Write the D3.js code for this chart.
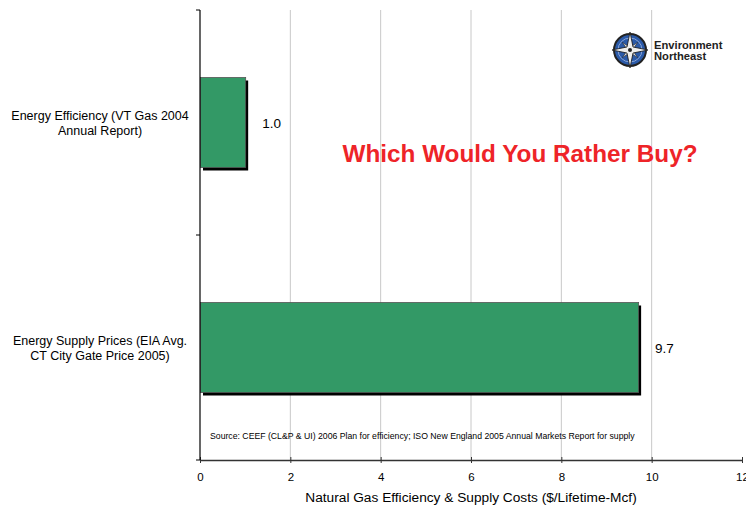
<!doctype html>
<html>
<head>
<meta charset="UTF-8">
<script src="https://d3js.org/d3.v7.min.js"></script>
<style>
  body { margin: 0; background: #fff; }
  svg text { font-family: "Liberation Sans", Arial, sans-serif; }
</style>
</head>
<body>
<svg id="chart"></svg>
<script>
// chart data
const categories = [
  ["Energy Efficiency (VT Gas 2004", "Annual Report)"],
  ["Energy Supply Prices (EIA Avg.", "CT City Gate Price 2005)"]
];
const values = [1.0, 9.7];
const valueLabels = ["1.0", "9.7"];
const xTicks = [0, 2, 4, 6, 8, 10, 12];
const xTitle = "Natural Gas Efficiency & Supply Costs ($/Lifetime-Mcf)";
const headline = "Which Would You Rather Buy?";
const sourceNote = "Source: CEEF (CL&P & UI) 2006 Plan for efficiency; ISO New England 2005 Annual Markets Report for supply";

(function(){
  const W = 746, H = 506;
  const margin = {top: 10, right: 4, bottom: 46, left: 200};
  const width = W - margin.left - margin.right,
        height = H - margin.top - margin.bottom;

  const svg = d3.select("#chart").attr("width", W).attr("height", H);
  const chart = svg.append("g")
      .attr("transform", "translate(" + margin.left + "," + margin.top + ")");

  const xSca = d3.scaleLinear().domain([0, 12]).range([0, 542]);
  const ySca = d3.scaleBand().domain(d3.range(categories.length)).range([0, height]);
  const barH = ySca.bandwidth() * 0.4;

  // vertical gridlines
  chart.selectAll(".grid")
      .data(xTicks.filter(d => d > 0 && d < 12))
    .enter().append("line")
      .attr("x1", d => xSca(d)).attr("x2", d => xSca(d))
      .attr("y1", 0).attr("y2", height)
      .attr("stroke", "#c8c8c8").attr("stroke-width", 1);

  // bars: shadow first, then green bar
  const bars = chart.selectAll(".bar").data(values).enter().append("g");
  bars.append("rect")
      .attr("x", 3)
      .attr("y", (d, i) => ySca(i) + (ySca.bandwidth() - barH) / 2 + 3)
      .attr("width", d => xSca(d))
      .attr("height", barH)
      .attr("fill", "#000");
  bars.append("rect")
      .attr("x", 0.5)
      .attr("y", (d, i) => ySca(i) + (ySca.bandwidth() - barH) / 2)
      .attr("width", d => xSca(d))
      .attr("height", barH)
      .attr("fill", "#339966")
      .attr("stroke", "#555")
      .attr("stroke-width", 0.8);

  // value labels
  bars.append("text")
      .attr("x", d => xSca(d) + 17)
      .attr("y", (d, i) => ySca(i) + ySca.bandwidth() / 2 + 5)
      .attr("font-size", 13.5)
      .attr("fill", "#000")
      .text((d, i) => valueLabels[i]);

  // x axis
  const xAxis = chart.append("g")
      .attr("transform", "translate(0," + height + ")")
      .call(d3.axisBottom(xSca).tickValues(xTicks).tickSize(4).tickSizeOuter(0));
  xAxis.select(".domain").attr("stroke", "#333").attr("stroke-width", 1.5);
  xAxis.selectAll(".tick line").attr("stroke", "#333").attr("y1", -3).attr("y2", 3);
  xAxis.selectAll(".tick text")
      .attr("font-size", 11.5)
      .attr("font-family", "Liberation Sans, Arial, sans-serif")
      .attr("fill", "#000")
      .attr("dy", "1.25em");

  chart.append("text")
      .attr("x", xSca(6))
      .attr("y", height + 42)
      .attr("text-anchor", "middle")
      .attr("font-size", 13.7)
      .text(xTitle);

  // y axis
  chart.append("line")
      .attr("x1", 0).attr("x2", 0).attr("y1", 0).attr("y2", height)
      .attr("stroke", "#000").attr("stroke-width", 1.2);
  chart.selectAll(".ytick")
      .data([0, 1, 2])
    .enter().append("line")
      .attr("x1", -4).attr("x2", 0)
      .attr("y1", d => d * ySca.step()).attr("y2", d => d * ySca.step())
      .attr("stroke", "#000");

  const catLabels = chart.selectAll(".cat").data(categories).enter().append("text")
      .attr("text-anchor", "middle")
      .attr("font-size", 12.5)
      .attr("fill", "#000")
      .attr("y", (d, i) => ySca(i) + ySca.bandwidth() / 2 - 3);
  catLabels.selectAll("tspan")
      .data(d => d)
    .enter().append("tspan")
      .attr("x", -100)
      .attr("dy", (d, j) => j === 0 ? 0 : 15.5)
      .text(d => d);

  // headline
  chart.append("text")
      .attr("x", 320)
      .attr("y", 152)
      .attr("text-anchor", "middle")
      .attr("font-size", 24.3)
      .attr("font-weight", "bold")
      .attr("fill", "#ee2428")
      .text(headline);

  // source note
  chart.append("text")
      .attr("x", 10)
      .attr("y", 429)
      .attr("font-size", 8.7)
      .attr("fill", "#000")
      .text(sourceNote);

  // logo
  const logo = svg.append("g").attr("transform", "translate(630,50)");
  logo.append("circle").attr("r", 16).attr("fill", "#2b5aa8").attr("stroke", "#222").attr("stroke-width", 2);
  logo.append("circle").attr("r", 12).attr("fill", "none").attr("stroke", "#9fb6df").attr("stroke-width", 0.8);
  const star = "M0,-18 L3,-3 L18,0 L3,3 L0,18 L-3,3 L-18,0 L-3,-3 Z";
  logo.append("path").attr("d", star).attr("transform", "rotate(45) scale(0.6)").attr("fill", "#ddd").attr("stroke", "#111").attr("stroke-width", 0.8);
  logo.append("path").attr("d", star).attr("fill", "#eee").attr("stroke", "#111").attr("stroke-width", 0.8);
  logo.append("circle").attr("r", 2).attr("fill", "#222");
  svg.append("text").attr("x", 654).attr("y", 49).attr("font-size", 11.2).attr("font-weight", "bold").attr("fill", "#222").text("Environment");
  svg.append("text").attr("x", 654).attr("y", 60).attr("font-size", 11.2).attr("font-weight", "bold").attr("fill", "#222").text("Northeast");
})();
</script>
</body>
</html>
